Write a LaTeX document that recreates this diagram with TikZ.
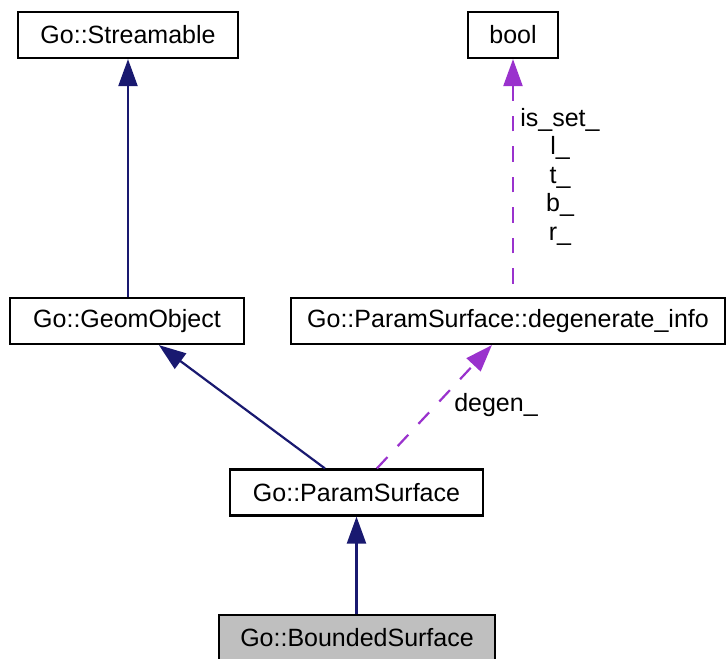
\documentclass[tikz,border=0pt]{standalone}
\usepackage{fontspec}
\setmainfont{Liberation Sans}
\usetikzlibrary{arrows.meta}
\definecolor{inherit}{HTML}{191970}
\definecolor{member}{HTML}{9A32CD}
\definecolor{current}{HTML}{BFBFBF}
\tikzset{
  cls/.style={draw=black, line width=2.2pt, rectangle, minimum height=46pt,
    inner sep=0pt, font=\fontsize{25}{28}\selectfont},
  inh/.style={draw=inherit, line width=2.2pt,
    -{Triangle[length=27pt,width=19pt,fill=inherit]}},
  use/.style={draw=member, line width=2.2pt,
    dash pattern=on 15.5pt off 15pt,
    -{Triangle[length=27pt,width=19pt,fill=member]}},
  lbl/.style={font=\fontsize{25}{28.5}\selectfont, align=center, inner sep=0pt}
}
\begin{document}
\begin{tikzpicture}[x=1pt,y=-1pt]
  \useasboundingbox[fill=white] (0,0) rectangle (726,659);
  % class boxes
  \node[cls, minimum width=220pt] (stream) at (128,35) {Go::Streamable};
  \node[cls, minimum width=90pt] (bool) at (513,35) {bool};
  \node[cls, minimum width=234pt] (geom) at (127,321) {Go::GeomObject};
  \node[cls, minimum width=434pt] (dinfo) at (508,321) {Go::ParamSurface::degenerate\_info};
  \node[cls, minimum width=253pt] (psurf) at (356.5,492.5) {Go::ParamSurface};
  \node[cls, minimum width=276pt, fill=current] (bsurf) at (357,638) {Go::BoundedSurface};
  % inheritance
  \draw[inh] (geom.north -| stream.south) -- (stream.south);
  \draw[inh] ([xshift=96pt]psurf.north west) -- ([xshift=150pt]geom.south west);
  \draw[inh] (bsurf.north -| psurf.south) -- (psurf.south);
  % usage
  \draw[use, dash phase=17.5pt] (dinfo.north -| bool.south) -- (bool.south);
  \draw[use] ([xshift=148pt]psurf.north west) -- ([xshift=202pt]dinfo.south west);
  % member labels
  \node[lbl] (lb1) at (560,176.5) {is\_set\_\\l\_\\t\_\\b\_\\r\_};
  \node[lbl] (lb2) at (496,405) {degen\_};
\end{tikzpicture}
\end{document}
